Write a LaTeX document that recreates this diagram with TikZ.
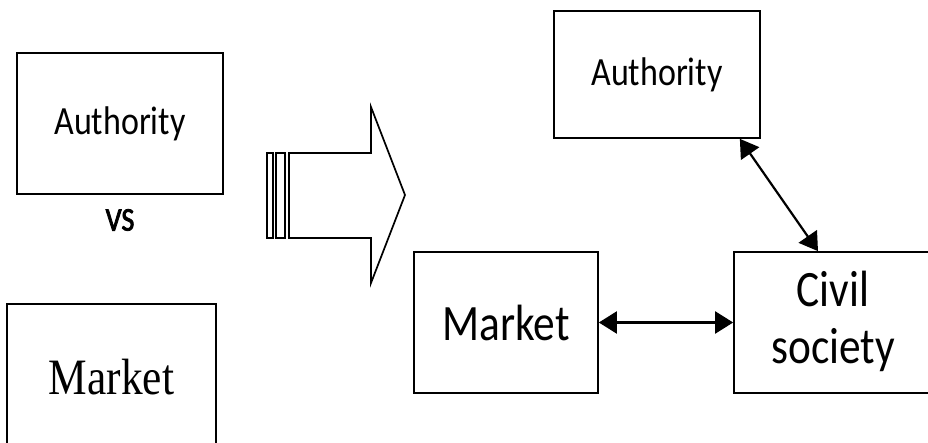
\documentclass[tikz,border=0pt]{standalone}
\usepackage{fontspec}
\setmainfont[FakeStretch=0.85]{Carlito}
\newfontfamily\vsfont[FakeStretch=0.85,FakeBold=2.5]{Carlito}
\newfontfamily\timesfont[FakeStretch=0.85]{Liberation Serif}
\usetikzlibrary{arrows.meta}

\begin{document}
\begin{tikzpicture}[x=1pt,y=-1pt,
  box/.style={draw,line width=1.7pt,inner sep=0pt,align=center},
  link/.style={line width=2.2pt,arrows={Triangle[length=18pt,width=22pt]-Triangle[length=18pt,width=22pt]}}]
\clip (0,0) rectangle (928,443);
\fill[white] (0,0) rectangle (928,443);
% before
\node[box,minimum width=206pt,minimum height=141pt,font=\fontsize{40}{48}\selectfont] (auth1) at (120,123.5) {Authority};
\node[font=\vsfont\fontsize{33}{40}\selectfont] (vs) at (120,220) {VS};
\node[box,minimum width=209pt,minimum height=146pt,font=\timesfont\fontsize{51}{60}\selectfont] (mkt1) at (111.5,377) {Market};
% big arrow
\draw[line width=1.7pt,line join=miter] (289,153) -- (371,153) -- (371,107) -- (405,195)
  -- (371,283) -- (371,238) -- (289,238) -- cycle;
\draw[line width=1.7pt] (267,153) rectangle (273,238);
\draw[line width=1.7pt] (276,153) rectangle (285,238);
% after
\node[box,minimum width=206pt,minimum height=127pt,font=\fontsize{40}{48}\selectfont] (auth2) at (657,74.5) {Authority};
\node[box,minimum width=184pt,minimum height=141pt,font=\fontsize{51}{60}\selectfont] (mkt2) at (506,322.5) {Market};
\node[box,minimum width=206pt,minimum height=141pt] (civ) at (837,322.5) {};
\node[font=\fontsize{51}{57}\selectfont,align=center] (civtxt) at (833,321) {Civil\\society};
\draw[link] (mkt2.east) -- (civ.west);
\draw[link] ([xshift=-21pt]auth2.south east) -- ([xshift=-19pt]civ.north);
\end{tikzpicture}
\end{document}
